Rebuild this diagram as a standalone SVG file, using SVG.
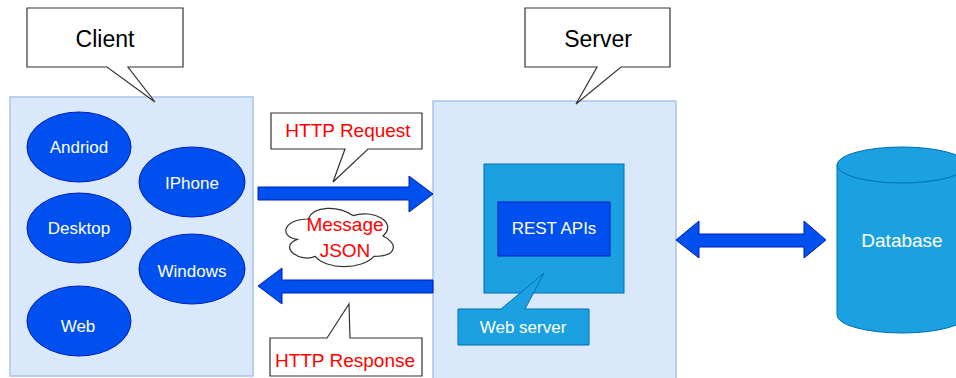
<svg xmlns="http://www.w3.org/2000/svg" width="956" height="378" viewBox="0 0 956 378">
<style>
text{font-family:"Liberation Sans",Arial,sans-serif;text-anchor:middle;dominant-baseline:central}
.cont{fill:#dae8fc;stroke:#a9c4eb;stroke-width:1.5}
.dev{fill:#0050ef;stroke:#001dbc;stroke-width:1}
.wt{fill:#ffffff;font-size:17px}
.call{fill:#ffffff;stroke:#333333;stroke-width:1.2}
.red{fill:#ff0000;font-size:19px}
.title{fill:#000000;font-size:23px}
.arr{fill:#0050ef;stroke:#001dbc;stroke-width:1}
.lb{fill:#1ba1e2;stroke:#006eaf;stroke-width:1}
</style>
<g id="client-container"><rect class="cont" x="10" y="97" width="243" height="279"/></g>
<g id="server-container"><rect class="cont" x="433" y="101" width="243" height="280"/></g>
<g id="andriod"><ellipse class="dev" cx="79" cy="147" rx="52" ry="35"/><text class="wt" x="79" y="147">Andriod</text></g>
<g id="iphone"><ellipse class="dev" cx="192" cy="182" rx="53" ry="35"/><text class="wt" x="192" y="183">IPhone</text></g>
<g id="desktop"><ellipse class="dev" cx="79" cy="228" rx="52" ry="35"/><text class="wt" x="79" y="228">Desktop</text></g>
<g id="windows"><ellipse class="dev" cx="192" cy="269" rx="53" ry="35"/><text class="wt" x="192" y="271">Windows</text></g>
<g id="web"><ellipse class="dev" cx="79" cy="321" rx="52" ry="35"/><text class="wt" x="78" y="326">Web</text></g>
<g id="web-server"><rect class="lb" x="484" y="164" width="140" height="129"/></g>
<g id="rest-apis"><rect class="dev" x="498" y="202" width="112" height="54"/><text class="wt" x="554" y="228">REST APIs</text></g>
<g id="database">
<path class="lb" d="M837,165 A65,18 0 0 1 967,165 V315 A65,18 0 0 1 837,315 Z"/>
<path d="M837,165 A65,18 0 0 0 967,165" fill="none" stroke="#006eaf" stroke-width="1"/>
<text x="902" y="240" style="fill:#ffffff;font-size:19px">Database</text>
</g>
<g id="connectors">
<path class="arr" d="M258,187 L409,187 L409,176 L433,194 L409,212 L409,200 L258,200 Z"/>
<path class="arr" d="M433,280 L282,280 L282,268 L258,286 L282,304 L282,293 L433,293 Z"/>
<path class="arr" d="M676,240 L699,221 L699,234 L804,234 L804,221 L826,240 L804,258 L804,247 L699,247 L699,258 Z"/>
</g>
<g id="client-label"><path class="call" d="M27,8 H183 V67 H128 L155,102 L107,67 H27 Z"/><text class="title" x="105" y="39">Client</text></g>
<g id="server-label"><path class="call" d="M525,8 H670 V67 H621 L576,104 L597,67 H525 Z"/><text class="title" x="598" y="39">Server</text></g>
<g id="http-request"><path class="call" d="M271,113 H422 V149 H368 L333,182 L345,149 H271 Z"/><text class="red" x="348" y="130">HTTP Request</text></g>
<g id="http-response"><path class="call" d="M270,338 H327 L349,304 L350,338 H422 V376 H270 Z"/><text class="red" x="345" y="360">HTTP Response</text></g>
<g id="message-json"><path class="call" d="M308,219 C284,219 278,236 297.2,239.4 C278,246.9 299.6,263.2 315.2,256.4 C326,270 362,270 374,256.4 C398,256.4 398,242.8 383,236 C398,222.4 374,208.8 353,215.6 C338,205.4 314,205.4 308,219 Z"/><text class="red" x="345" y="224">Message</text><text class="red" x="345" y="250">JSON</text></g>
<g id="web-server-label"><path class="lb" d="M458,309 H501 L544,273 L525,309 H589 V345 H458 Z"/><text class="wt" x="523" y="327">Web server</text></g>
</svg>
